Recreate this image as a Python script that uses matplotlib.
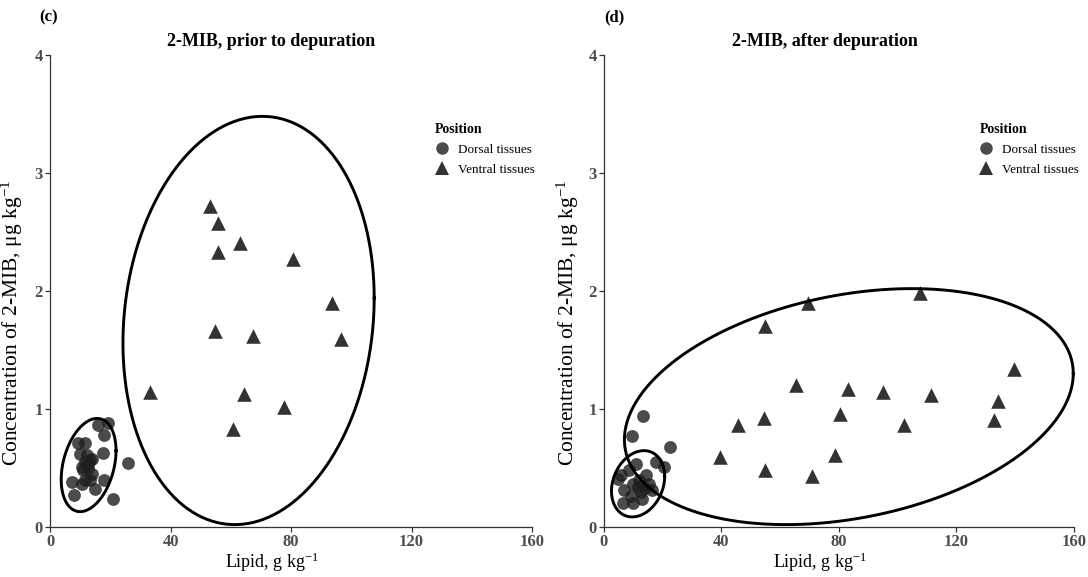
import numpy as np
import matplotlib
matplotlib.use('Agg')
import matplotlib.pyplot as plt
from matplotlib.lines import Line2D

plt.rcParams['font.family'] = ['Liberation Serif', 'DejaVu Serif']
plt.rcParams['mathtext.fontset'] = 'custom'
plt.rcParams['mathtext.rm'] = 'Liberation Serif'
plt.rcParams['mathtext.it'] = 'Liberation Serif:italic'

# --- (c) prior to depuration ---
prior_dorsal_x = [16.0, 19.4, 18.0, 9.4, 11.6, 17.7, 10.0, 12.2, 11.6, 13.3, 10.5,
                  12.7, 26.0, 11.1, 7.2, 11.6, 13.1, 18.0, 10.5, 15.0, 7.8, 21.0,
                  14.0, 12.5, 13.8]
prior_dorsal_y = [0.86, 0.88, 0.78, 0.71, 0.71, 0.63, 0.62, 0.61, 0.55, 0.57, 0.51,
                  0.53, 0.54, 0.48, 0.38, 0.40, 0.40, 0.40, 0.36, 0.32, 0.27, 0.24,
                  0.58, 0.50, 0.45]
prior_ventral_x = [53.2, 55.8, 55.8, 63.1, 80.7, 93.7, 96.7, 54.8, 67.4, 33.2,
                   64.4, 77.7, 60.8]
prior_ventral_y = [2.72, 2.58, 2.33, 2.41, 2.27, 1.90, 1.59, 1.66, 1.62, 1.14,
                   1.13, 1.02, 0.83]

# --- (d) after depuration ---
after_dorsal_x = [13.5, 9.6, 22.4, 10.9, 17.6, 20.4, 5.9, 14.3, 4.8, 9.8, 15.4,
                  7.0, 12.6, 16.5, 9.3, 13.1, 6.5, 9.8, 11.5, 14.0, 12.0, 8.5]
after_dorsal_y = [0.94, 0.77, 0.68, 0.53, 0.55, 0.51, 0.44, 0.44, 0.41, 0.36, 0.36,
                  0.31, 0.30, 0.31, 0.26, 0.24, 0.20, 0.20, 0.34, 0.33, 0.40, 0.48]
after_ventral_x = [39.7, 45.7, 54.4, 55.0, 55.0, 65.5, 69.5, 70.9, 78.7, 80.4,
                   83.0, 95.1, 102.3, 107.7, 111.3, 134.1, 132.7, 139.7]
after_ventral_y = [0.59, 0.86, 0.92, 0.48, 1.70, 1.20, 1.90, 0.43, 0.61, 0.96,
                   1.17, 1.14, 0.86, 1.98, 1.12, 1.07, 0.91, 1.34]

# ellipses: centre x, centre y, half width, half height, correlation
prior_dorsal_ell = [12.8, 0.525, 9.1, 0.395, 0.31]
prior_ventral_ell = [65.9, 1.75, 41.7, 1.73, 0.11]
after_dorsal_ell = [11.65, 0.366, 9.05, 0.281, 0.22]
after_ventral_ell = [83.4, 1.02, 76.4, 1.0, 0.28]

x_ticks = [0, 40, 80, 120, 160]
y_ticks = [0, 1, 2, 3, 4]

PT_COLOR = '#1e1e1e'


def ellipse_path(cx, cy, sx, sy, rho):
    t = np.linspace(0, 2 * np.pi, 300)
    x = cx + sx * np.cos(t)
    y = cy + sy * (rho * np.cos(t) + np.sqrt(1 - rho ** 2) * np.sin(t))
    return x, y


def draw_panel(ax, dx, dy, vx, vy, ell_d, ell_v, ylab_x):
    ax.scatter(dx, dy, s=85, marker='o', color=PT_COLOR, alpha=0.8,
               linewidths=0, zorder=3)
    ax.scatter(vx, vy, s=110, marker='^', color='#333333', linewidths=0, zorder=3)
    for e in (ell_d, ell_v):
        ex, ey = ellipse_path(*e)
        ax.plot(ex, ey, color='black', lw=2.1, zorder=4, clip_on=False)

    ax.set_xlim(0, 160)
    ax.set_ylim(0, 4)
    ax.set_xticks(x_ticks)
    ax.set_yticks(y_ticks)
    for s in ('top', 'right'):
        ax.spines[s].set_visible(False)
    for s in ('left', 'bottom'):
        ax.spines[s].set_color('#333333')
        ax.spines[s].set_linewidth(0.9)
    ax.tick_params(length=3.5, width=0.9, color='#333333', labelsize=12,
                   labelcolor='#4d4d4d', pad=1.5)
    for lab in ax.get_xticklabels() + ax.get_yticklabels():
        lab.set_fontweight('bold')

    ax.set_xlabel('Lipid, g kg$^{-1}$', fontsize=13)
    ax.xaxis.set_label_coords(0.46, -0.05)
    ax.set_ylabel('Concentration of 2-MIB, \u03bcg kg$^{-1}$', fontsize=15.5)
    ax.yaxis.set_label_coords(ylab_x, 0.432)

    handles = [
        Line2D([], [], marker='o', ls='none', color=PT_COLOR, alpha=0.8,
               markersize=9, markeredgewidth=0),
        Line2D([], [], marker='^', ls='none', color='#333333',
               markersize=10.5, markeredgewidth=0),
    ]
    ax.legend(handles, ['Dorsal tissues', 'Ventral tissues'],
              title='Position', loc='upper left',
              bbox_to_anchor=(0.78, 0.876), frameon=False, fontsize=9.5,
              title_fontproperties={'weight': 'bold', 'size': 10},
              alignment='left', handlelength=1.0, handletextpad=0.7,
              labelspacing=0.6, borderpad=0.2)


fig = plt.figure(figsize=(10.88, 5.77), dpi=100)
ax1 = fig.add_axes([0.046, 0.0867, 0.443, 0.818])
ax2 = fig.add_axes([0.555, 0.0867, 0.432, 0.818])

draw_panel(ax1, prior_dorsal_x, prior_dorsal_y, prior_ventral_x, prior_ventral_y,
           prior_dorsal_ell, prior_ventral_ell, -0.053)
draw_panel(ax2, after_dorsal_x, after_dorsal_y, after_ventral_x, after_ventral_y,
           after_dorsal_ell, after_ventral_ell, -0.048)

fig.text(0.249, 1 - 41 / 577, '2-MIB, prior to depuration', ha='center',
         va='center', fontsize=13, fontweight='bold')
fig.text(0.758, 1 - 41 / 577, '2-MIB, after depuration', ha='center',
         va='center', fontsize=13, fontweight='bold')
fig.text(0.036, 1 - 17 / 577, '(c)', ha='left', va='center', fontsize=12,
         fontweight='bold')
fig.text(0.555, 1 - 17 / 577, '(d)', ha='left', va='center', fontsize=12,
         fontweight='bold')

fig.savefig('out.png', dpi=100)
